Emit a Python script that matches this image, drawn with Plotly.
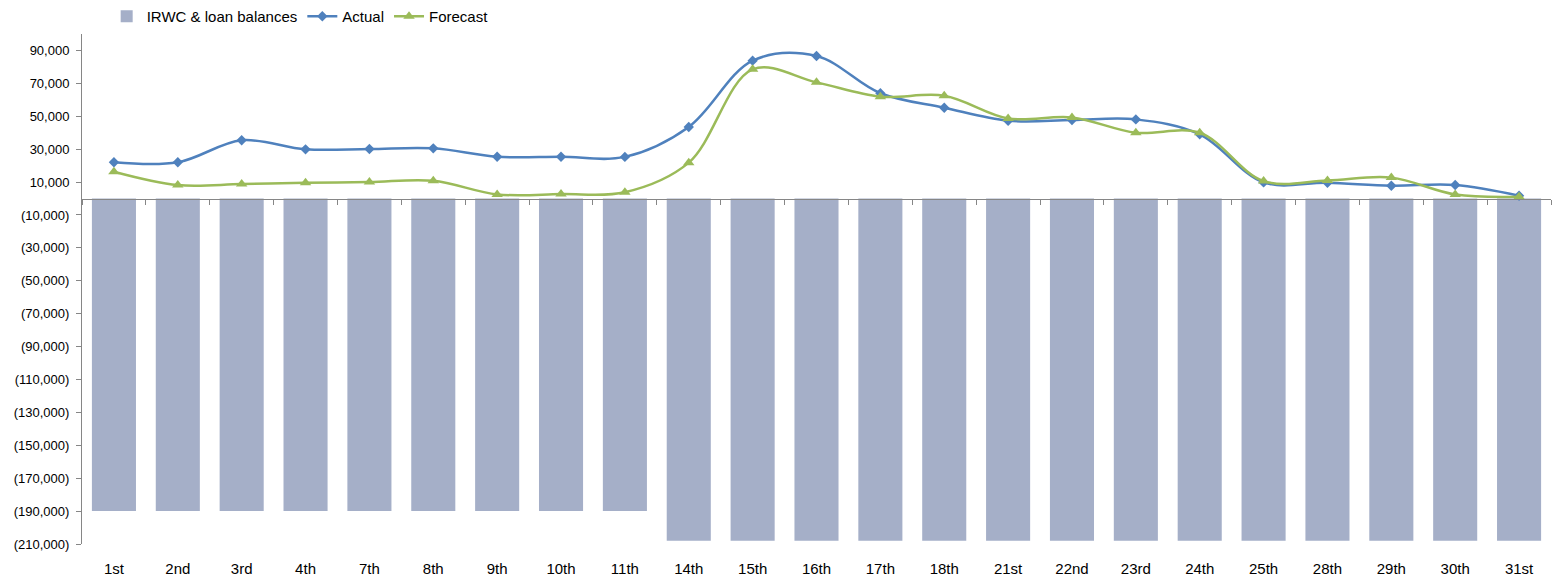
import plotly.graph_objects as go

# Business days of the month
days = ["1st", "2nd", "3rd", "4th", "7th", "8th", "9th", "10th", "11th", "14th",
        "15th", "16th", "17th", "18th", "21st", "22nd", "23rd", "24th", "25th",
        "28th", "29th", "30th", "31st"]

# IRWC & loan balances (negative positions)
balances = [-190000] * 9 + [-208000] * 14

# Daily cash position
actual = [22000, 22000, 35400, 29900, 30100, 30500, 25400, 25400, 25300, 43500,
          83800, 86600, 64000, 55200, 47300, 47700, 48100, 39000, 9800,
          9600, 7800, 8200, 1700]
forecast = [16300, 8200, 8800, 9600, 10000, 10800, 2500, 2700, 3800, 21800,
            78500, 70600, 61900, 62500, 48700, 49300, 40000, 40000, 10600,
            11000, 12700, 2500, 1100]

# Value axis ticks
y_min, y_max = -210000, 100000
y_ticks = list(range(-210000, 90001, 20000))
y_tick_text = [f"({abs(v):,})" if v < 0 else f"{v:,}" for v in y_ticks]

FONT = "Liberation Sans, Arial, sans-serif"
AXIS_GREY = "#868686"

fig = go.Figure()

fig.add_trace(go.Bar(
    x=days, y=balances, name="IRWC & loan balances",
    marker=dict(color="#A5AFC8", line=dict(width=0)),
    width=0.69, xaxis="x", yaxis="y",
))

fig.add_trace(go.Scatter(
    x=days, y=actual, name="Actual", mode="lines+markers",
    line=dict(color="#4F81BD", width=2.5, shape="spline", smoothing=1.0),
    marker=dict(symbol="diamond", size=8, color="#4F81BD"),
    xaxis="x2", yaxis="y",
))

fig.add_trace(go.Scatter(
    x=days, y=forecast, name="Forecast", mode="lines+markers",
    line=dict(color="#9BBB59", width=2.5, shape="spline", smoothing=1.0),
    marker=dict(symbol="triangle-up", size=10, color="#9BBB59"),
    xaxis="x2", yaxis="y",
))

# Category axis line sits on the zero value
zero_pos = (0 - y_min) / (y_max - y_min)
x_range = [-0.5, len(days) - 0.5]

fig.update_layout(
    width=1558, height=580,
    margin=dict(l=82, r=7, t=34, b=36, autoexpand=False),
    paper_bgcolor="white", plot_bgcolor="white",
    font=dict(family=FONT, color="#000000"),
    showlegend=True,
    legend=dict(
        orientation="h", x=0.0168, xanchor="left",
        y=1.0, yanchor="top", yref="container",
        font=dict(size=15, family=FONT, color="#000000"),
        itemwidth=30, tracegroupgap=0,
        bgcolor="rgba(0,0,0,0)",
    ),
    xaxis=dict(
        type="category", categoryorder="array", categoryarray=days,
        range=x_range, showline=False, ticks="", showgrid=False,
        tickfont=dict(size=15, family=FONT, color="#000000"),
        ticklabelstandoff=14, zeroline=False, automargin=False,
    ),
    xaxis2=dict(
        type="category", categoryorder="array", categoryarray=days,
        range=x_range, overlaying="x", anchor="free", position=zero_pos,
        side="bottom", showline=True, linecolor=AXIS_GREY, linewidth=1,
        ticks="outside", tickson="boundaries", ticklen=5, tickcolor=AXIS_GREY,
        showticklabels=False, showgrid=False, zeroline=False, automargin=False,
    ),
    yaxis=dict(
        range=[y_min, y_max], tickvals=y_ticks, ticktext=y_tick_text,
        showline=True, linecolor=AXIS_GREY, linewidth=1,
        ticks="outside", ticklen=5, tickcolor=AXIS_GREY,
        showgrid=False, zeroline=False, automargin=False,
        tickfont=dict(size=13, family=FONT, color="#000000"),
        ticklabelstandoff=4,
    ),
)

fig.write_html("out.html")
